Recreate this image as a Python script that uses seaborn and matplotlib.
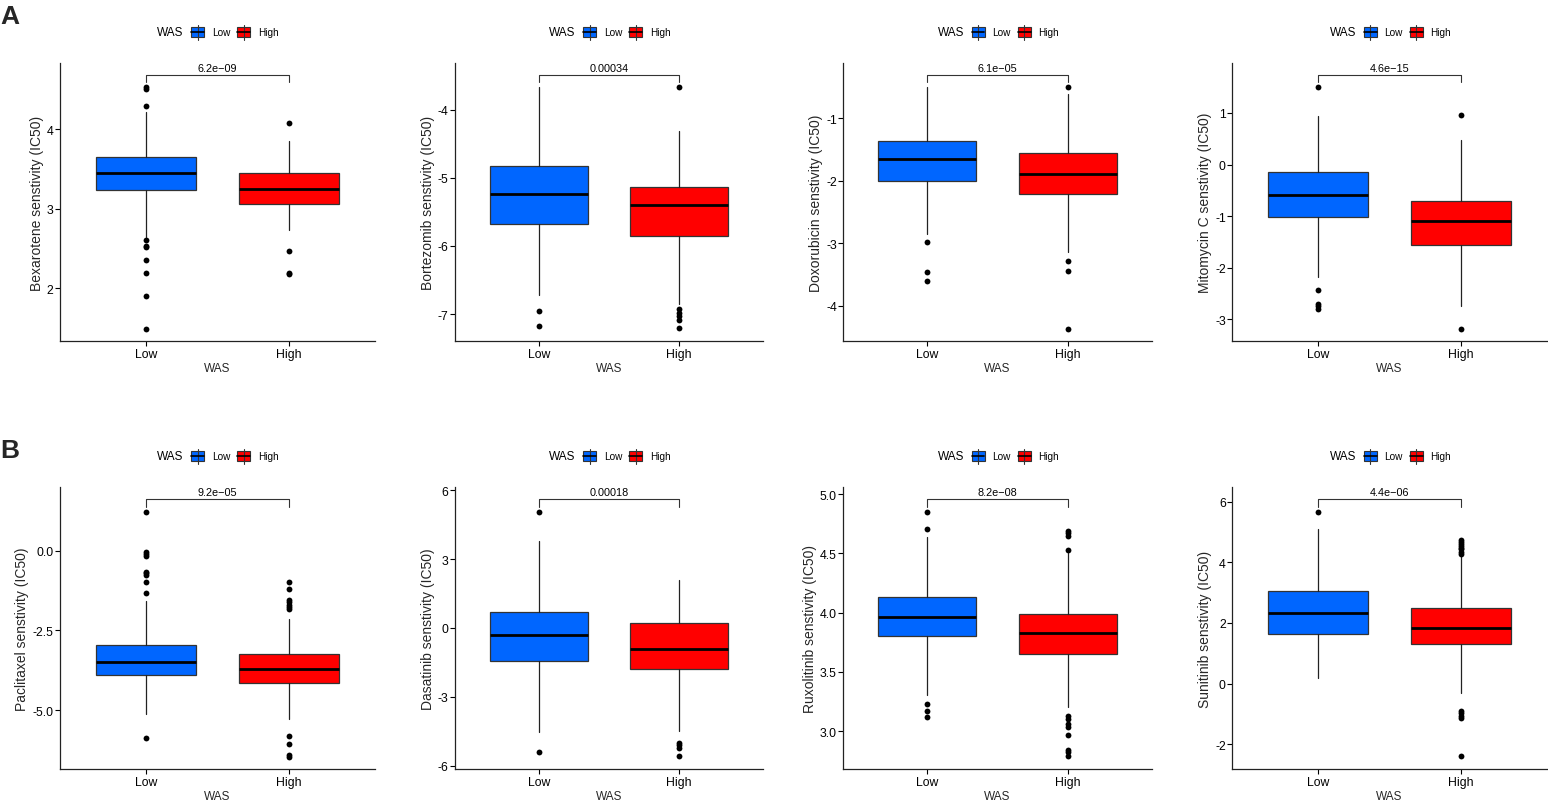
import numpy as np
import pandas as pd
import matplotlib
matplotlib.use("Agg")
import matplotlib.pyplot as plt
import matplotlib.transforms as mtransforms
from matplotlib.patches import Rectangle
from matplotlib.lines import Line2D
import seaborn as sns

# =========================================
# DATA
# =========================================
drugs = ["Bexarotene", "Bortezomib", "Doxorubicin", "Mitomycin C",
         "Paclitaxel", "Dasatinib", "Ruxolitinib", "Sunitinib"]
groups = ["Low", "High"]
p_values = ["6.2e\u221209", "0.00034", "6.1e\u221205", "4.6e\u221215",
            "9.2e\u221205", "0.00018", "8.2e\u221208", "4.4e\u221206"]

# box statistics, Low group
low_whislo = [2.64, -6.72, -2.85, -2.18, -5.13, -4.55, 3.30, 0.18]
low_q1 = [3.24, -5.67, -2.00, -1.01, -3.90, -1.45, 3.80, 1.65]
low_med = [3.45, -5.24, -1.66, -0.59, -3.49, -0.29, 3.96, 2.34]
low_q3 = [3.65, -4.83, -1.37, -0.15, -2.96, 0.71, 4.135, 3.05]
low_whishi = [4.22, -3.66, -0.50, 0.95, -1.57, 3.81, 4.64, 5.10]

# box statistics, High group
high_whislo = [2.73, -6.85, -3.15, -2.74, -5.28, -4.48, 3.20, -0.31]
high_q1 = [3.06, -5.86, -2.22, -1.56, -4.14, -1.80, 3.65, 1.31]
high_med = [3.25, -5.40, -1.90, -1.10, -3.70, -0.93, 3.825, 1.85]
high_q3 = [3.45, -5.13, -1.56, -0.70, -3.25, 0.20, 3.99, 2.49]
high_whishi = [3.86, -4.32, -0.62, 0.47, -2.14, 2.09, 4.50, 4.22]

# outlying points
low_fliers = [
    [4.53, 4.51, 4.29, 2.61, 2.53, 2.52, 2.36, 2.19, 1.90, 1.49],
    [-6.95, -7.17],
    [-2.98, -3.47, -3.61],
    [1.50, -2.43, -2.70, -2.74, -2.80],
    [1.21, -0.05, -0.10, -0.18, -0.66, -0.71, -0.76, -0.98, -1.34, -5.87],
    [5.06, -5.42],
    [4.85, 4.71, 3.23, 3.17, 3.12],
    [5.66],
]
high_fliers = [
    [4.08, 2.47, 2.19, 2.18],
    [-3.67, -6.93, -6.98, -7.03, -7.08, -7.21],
    [-0.51, -3.28, -3.45, -4.37],
    [0.96, -3.18],
    [-0.98, -1.21, -1.55, -1.62, -1.70, -1.78, -1.83, -5.81, -6.08, -6.41, -6.46],
    [-5.01, -5.10, -5.23, -5.59],
    [4.69, 4.67, 4.645, 4.53, 3.13, 3.10, 3.06, 3.03, 2.97, 2.84, 2.82, 2.79],
    [4.74, 4.68, 4.61, 4.55, 4.48, 4.42, 4.35, 4.28,
     -0.91, -0.98, -1.05, -1.12, -2.39],
]

# axis ranges and tick marks
y_limits = [(1.335, 4.836), (-7.394, -3.315), (-4.568, -0.119), (-3.419, 1.968),
            (-6.85, 1.987), (-6.146, 6.131), (2.679, 5.059), (-2.808, 6.468)]
y_ticks = [[2, 3, 4], [-7, -6, -5, -4], [-4, -3, -2, -1], [-3, -2, -1, 0, 1],
           [-5.0, -2.5, 0.0], [-6, -3, 0, 3, 6], [3.0, 3.5, 4.0, 4.5, 5.0],
           [-2, 0, 2, 4, 6]]
y_tick_labels = [["2", "3", "4"], ["-7", "-6", "-5", "-4"], ["-4", "-3", "-2", "-1"],
                 ["-3", "-2", "-1", "0", "1"], ["-5.0", "-2.5", "0.0"],
                 ["-6", "-3", "0", "3", "6"], ["3.0", "3.5", "4.0", "4.5", "5.0"],
                 ["-2", "0", "2", "4", "6"]]

palette = {"Low": "#0066FF", "High": "#FF0000"}

# =========================================
# STYLE
# =========================================
sns.set_theme(style="ticks")
plt.rcParams["font.family"] = ["Liberation Sans", "DejaVu Sans"]

W, H = 1548, 804
fig = plt.figure(figsize=(W / 100, H / 100), dpi=100)

# panel frames in pixels: (left, right) per column, (top, bottom) per row
col_px = [(59.7, 375.0), (454.7, 763.3), (843.3, 1151.7), (1232.3, 1546.7)]
row_px = [(64.0, 342.0), (488.3, 770.0)]


def draw_legend(ax_left, ax_right, ax_top):
    cx = (ax_left + ax_right) / 2
    cy = ax_top - 31
    tf = fig.transFigure

    def fx(px):
        return px / W

    def fy(py):
        return 1 - py / H

    fig.text(fx(cx - 60), fy(cy), "WAS", fontsize=8.5, ha="left", va="center",
             color="black")
    for g, x0, tx, label in [("Low", cx - 26, cx - 5, "Low"),
                             ("High", cx + 20, cx + 41, "High")]:
        bw, bh = 13, 10
        fig.add_artist(Line2D([fx(x0 + bw / 2)] * 2, [fy(cy - 7.5), fy(cy + 7.5)],
                              transform=tf, color="#333333", lw=0.8))
        fig.add_artist(Rectangle((fx(x0), fy(cy + bh / 2)), bw / W, bh / H,
                                 transform=tf, facecolor=palette[g],
                                 edgecolor="#333333", lw=0.8))
        fig.add_artist(Line2D([fx(x0), fx(x0 + bw)], [fy(cy)] * 2,
                              transform=tf, color="black", lw=1.2))
        fig.text(fx(tx), fy(cy), label, fontsize=7.2, ha="left", va="center",
                 color="black")


for i, drug in enumerate(drugs):
    r, c = divmod(i, 4)
    left, right = col_px[c]
    top, bottom = row_px[r]
    ax = fig.add_axes([left / W, 1 - bottom / H, (right - left) / W, (bottom - top) / H])

    # outlying points through seaborn
    fl = pd.DataFrame({
        "WAS": ["Low"] * len(low_fliers[i]) + ["High"] * len(high_fliers[i]),
        "value": low_fliers[i] + high_fliers[i],
    })
    sns.stripplot(data=fl, x="WAS", y="value", order=groups, jitter=False,
                  color="black", size=4.2, linewidth=0, ax=ax, zorder=3)

    # boxes from summary statistics
    stats = [
        dict(whislo=low_whislo[i], q1=low_q1[i], med=low_med[i],
             q3=low_q3[i], whishi=low_whishi[i], fliers=[]),
        dict(whislo=high_whislo[i], q1=high_q1[i], med=high_med[i],
             q3=high_q3[i], whishi=high_whishi[i], fliers=[]),
    ]
    bp = ax.bxp(stats, positions=[0, 1], widths=0.7, patch_artist=True,
                showfliers=False, showcaps=False, manage_ticks=False,
                boxprops=dict(edgecolor="#333333", linewidth=0.9),
                whiskerprops=dict(color="#222222", linewidth=0.9),
                medianprops=dict(color="black", linewidth=2.0))
    for patch, g in zip(bp["boxes"], groups):
        patch.set_facecolor(palette[g])
        patch.set_zorder(2)

    ax.set_xlim(-0.6, 1.6)
    ax.set_ylim(*y_limits[i])
    ax.set_xticks([0, 1])
    ax.set_xticklabels(groups)
    ax.set_yticks(y_ticks[i])
    ax.set_yticklabels(y_tick_labels[i])
    ax.tick_params(axis="both", labelsize=8.8, length=3.5, width=0.8,
                   color="black", labelcolor="black", pad=1.2)
    ax.set_xlabel("WAS", fontsize=8.5, labelpad=2)
    ax.set_ylabel(f"{drug} senstivity (IC50)", fontsize=10, labelpad=2)
    sns.despine(ax=ax)
    for s in ["left", "bottom"]:
        ax.spines[s].set_linewidth(0.9)
        ax.spines[s].set_color("#222222")

    # comparison bracket with p value
    trans = mtransforms.blended_transform_factory(ax.transData, ax.transAxes)
    ax.plot([0, 0, 1, 1], [0.931, 0.957, 0.957, 0.931], transform=trans,
            color="#333333", lw=0.8, clip_on=False)
    ax.text(0.5, 0.965, p_values[i], transform=trans, ha="center", va="bottom",
            fontsize=7.8, color="black")

    draw_legend(left, right, top)

fig.text(0.5 / W, 1 - 5 / H, "A", fontsize=19, fontweight="bold", ha="left", va="top")
fig.text(0.5 / W, 1 - 439 / H, "B", fontsize=19, fontweight="bold", ha="left", va="top")

fig.savefig("out.png", dpi=100)
